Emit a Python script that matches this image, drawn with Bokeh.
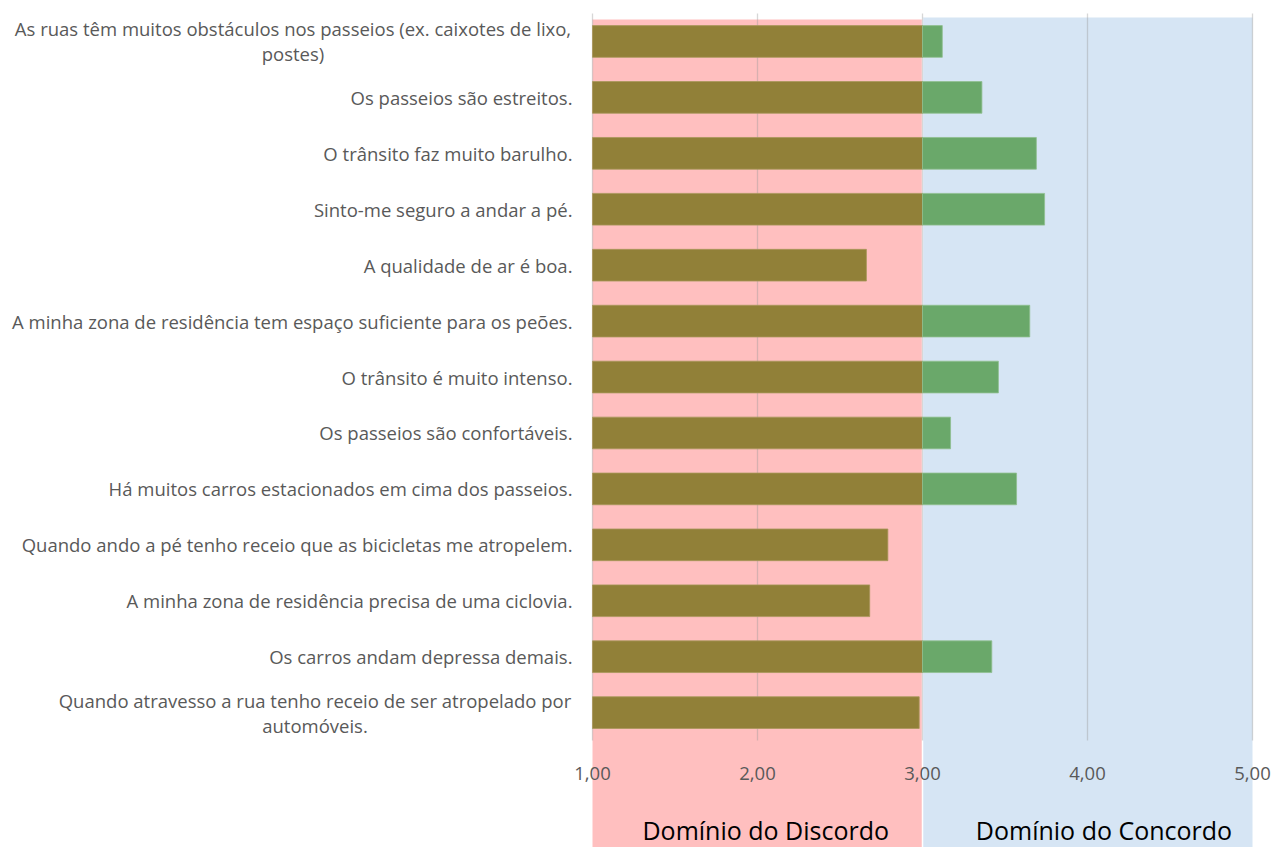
from bokeh.plotting import figure
from bokeh.models import Range1d, ColumnDataSource
from bokeh.core.properties import value
from bokeh.embed import file_html
from bokeh.resources import INLINE

# ---------------- data ----------------
categories = [
    "As ruas têm muitos obstáculos nos passeios (ex. caixotes de lixo,\npostes)",
    "Os passeios são estreitos.",
    "O trânsito faz muito barulho.",
    "Sinto-me seguro a andar a pé.",
    "A qualidade de ar é boa.",
    "A minha zona de residência tem espaço suficiente para os peões.",
    "O trânsito é muito intenso.",
    "Os passeios são confortáveis.",
    "Há muitos carros estacionados em cima dos passeios.",
    "Quando ando a pé tenho receio que as bicicletas me atropelem.",
    "A minha zona de residência precisa de uma ciclovia.",
    "Os carros andam depressa demais.",
    "Quando atravesso a rua tenho receio de ser atropelado por\nautomóveis.",
]
scores = [3.12, 3.36, 3.69, 3.74, 2.66, 3.65, 3.46, 3.17, 3.57, 2.79, 2.68, 3.42, 2.98]
tick_values = [1, 2, 3, 4, 5]
tick_labels = ["1,00", "2,00", "3,00", "4,00", "5,00"]
neutral = 3
domains = ["Domínio do Discordo", "Domínio do Concordo"]
domain_ranges = [(1, 3), (3, 5)]

# ---------------- layout ----------------
W, H = 1272, 847
PX_X = 165.0           # pixels per score unit
X1_PX = 592            # pixel position of score 1 inside the figure
PX_Y = 55.93           # pixels per category row
TOP_PX = 13            # pixel position of row boundary 0.5

x_start = 1 - X1_PX / PX_X
x_end = x_start + W / PX_X
y_top = 0.5 - TOP_PX / PX_Y
y_bottom = y_top + H / PX_Y

FONT = "Open Sans"
FS = "18.5px"

p = figure(width=W, height=H, output_backend="svg", toolbar_location=None,
           x_range=Range1d(x_start, x_end), y_range=Range1d(y_bottom, y_top),
           x_axis_type=None, y_axis_type=None, min_border=0)
p.outline_line_color = None
p.grid.visible = False
p.background_fill_color = "white"
p.border_fill_color = "white"

n = len(categories)
ys = [i + 1 for i in range(n)]

# domain backgrounds
bg_colors = ["#ffbfbf", "#d6e5f4"]
bg_tops = [0.5 + 6 / PX_Y, 0.5 + 4 / PX_Y]
for (a, b), col, t in zip(domain_ranges, bg_colors, bg_tops):
    p.quad(left=[a], right=[b], top=[t], bottom=[y_bottom + 1], fill_color=col, line_color=None)
p.segment(x0=[3], x1=[3], y0=[0.5 + 4 / PX_Y], y1=[y_bottom + 1], line_color="white", line_width=1.5)

# gridlines
p.segment(x0=tick_values, x1=tick_values, y0=[0.5] * 5, y1=[n + 0.5] * 5,
          line_color="#9a9a9a", line_alpha=0.4, line_width=1.3)

# bars
bar_h = 31.7 / PX_Y
olive_right = [min(v, neutral) for v in scores]
src_o = ColumnDataSource(dict(y=ys, left=[1] * n, right=olive_right))
p.hbar(y="y", left="left", right="right", height=bar_h, source=src_o,
       fill_color="#918038", line_color="#a8975a", line_width=0.8)
gy = [y for y, v in zip(ys, scores) if v > neutral]
gv = [v for v in scores if v > neutral]
src_g = ColumnDataSource(dict(y=gy, left=[neutral] * len(gy), right=gv))
p.hbar(y="y", left="left", right="right", height=bar_h, source=src_g,
       fill_color="#6aa86a", line_color="#8fbf8f", line_width=0.8)

# category labels
label_right = 1 - 20 / PX_X
single = [(c, y) for c, y in zip(categories, ys) if "\n" not in c]
p.text(x=[label_right] * len(single), y=[y for _, y in single], text=[c for c, _ in single],
       text_align="right", text_baseline="middle", text_font=value(FONT),
       text_font_size=FS, text_color="#595959")
multi = [(c, y) for c, y in zip(categories, ys) if "\n" in c]
# centre each wrapped label block under its first line (approx. first-line width)
first_line_px = {0: 559, 12: 515}
for c, y in multi:
    idx = categories.index(c)
    cx = label_right - first_line_px[idx] / 2 / PX_X
    p.text(x=[cx], y=[y], text=[c], text_align="center", text_baseline="middle",
           text_font=value(FONT), text_font_size=FS, text_color="#595959",
           text_line_height=1.0)

# tick labels
tick_y = n + 0.5 + 33 / PX_Y
p.text(x=tick_values, y=[tick_y] * 5, text=tick_labels, text_align="center",
       text_baseline="middle", text_font=value(FONT), text_font_size=FS,
       text_color="#595959")

# domain labels
dom_y = n + 0.5 + 89 / PX_Y
dom_x = [2.05, 4.1]
p.text(x=dom_x, y=[dom_y] * 2, text=domains, text_align="center", text_baseline="middle",
       text_font=value(FONT), text_font_size="25px", text_color="#000000")

open("out.html", "w").write(file_html(p, INLINE))
